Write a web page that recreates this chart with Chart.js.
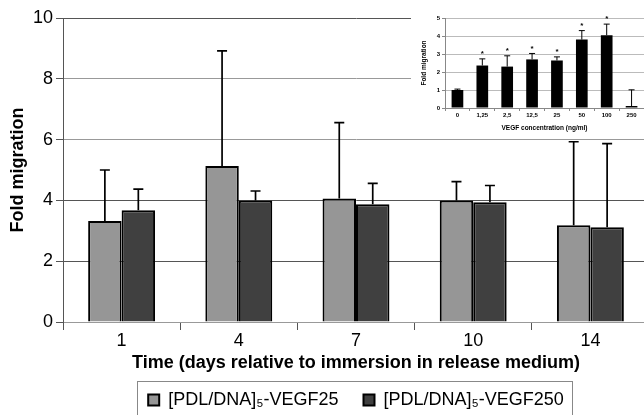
<!DOCTYPE html>
<html>
<head>
<meta charset="utf-8">
<script src="https://cdn.jsdelivr.net/npm/chart.js@4/dist/chart.umd.min.js"></script>
<style>
  html, body { margin: 0; padding: 0; background: #fff; overflow: hidden; }
  #wrap { position: relative; width: 644px; height: 415px; overflow: hidden; }
  #main { position: absolute; left: 0; top: 0; }
  #inset { position: absolute; left: 411px; top: 0; background: #fff; }
</style>
</head>
<body>
<div id="wrap">
  <canvas id="main" width="650" height="425"></canvas>
  <canvas id="inset" width="233" height="136"></canvas>
</div>
<script>
// main chart: fold migration per release day
const days = ['1', '4', '7', '10', '14'];
const vegf25 = [3.32, 5.13, 4.06, 4.00, 3.18];
const vegf25Err = [1.68, 3.79, 2.50, 0.62, 2.75];
const vegf250 = [3.68, 4.00, 3.87, 3.94, 3.12];
const vegf250Err = [0.69, 0.31, 0.69, 0.55, 2.75];
const yTicks = [0, 2, 4, 6, 8, 10];

// inset: dose response
const doses = ['0', '1,25', '2,5', '12,5', '25', '50', '100', '250'];
const doseValues = [1.00, 2.36, 2.30, 2.70, 2.64, 3.80, 4.04, 0.11];
const doseErr = [0.05, 0.37, 0.60, 0.33, 0.20, 0.50, 0.62, 0.90];
const doseStars = [false, true, true, true, true, true, true, false];

Chart.defaults.font.family = "'Liberation Sans', Arial, sans-serif";
Chart.defaults.color = '#000';

const errorBars = {
  id: 'errorBars',
  afterDatasetsDraw(chart) {
    const ctx = chart.ctx;
    const y = chart.scales.y;
    chart.data.datasets.forEach((ds, i) => {
      const meta = chart.getDatasetMeta(i);
      meta.data.forEach((bar, j) => {
        const top = y.getPixelForValue(ds.data[j] + ds.errs[j]);
        ctx.save();
        ctx.strokeStyle = '#000';
        ctx.lineWidth = ds.errWidth;
        ctx.beginPath();
        ctx.moveTo(bar.x, bar.y);
        ctx.lineTo(bar.x, top);
        ctx.moveTo(bar.x - ds.cap / 2, top);
        ctx.lineTo(bar.x + ds.cap / 2, top);
        ctx.stroke();
        if (ds.stars && ds.stars[j]) {
          ctx.fillStyle = '#000';
          ctx.font = "bold 8px 'Liberation Sans', Arial, sans-serif";
          ctx.textAlign = 'center';
          ctx.textBaseline = 'middle';
          ctx.fillText('*', bar.x, top - 5);
        }
        ctx.restore();
      });
    });
  }
};

const legendFrame = {
  id: 'legendFrame',
  afterDraw(chart) {
    const lg = chart.legend;
    if (!lg || !lg.legendHitBoxes || !lg.legendHitBoxes.length) return;
    const hb = lg.legendHitBoxes;
    const a = hb[0], b = hb[hb.length - 1];
    const ctx = chart.ctx;
    const left = Math.round(a.left - 11) + 0.5;
    const right = Math.round(b.left + b.width + 8) + 0.5;
    ctx.save();
    ctx.strokeStyle = '#888';
    ctx.lineWidth = 1;
    ctx.strokeRect(left, Math.round(lg.top) + 0.5, right - left, 100);
    ctx.restore();
  }
};

const gridColor = (c) => {
  const v = c.tick && c.tick.value;
  return (v === 6 || v === 8 || v === 0) ? '#999' : '#555';
};

new Chart(document.getElementById('main'), {
  type: 'bar',
  data: {
    labels: days,
    datasets: [
      {
        label: '[PDL/DNA]\u2085-VEGF25\u00a0\u00a0\u00a0',
        data: vegf25,
        errs: vegf25Err,
        errWidth: 1.7,
        cap: 10,
        backgroundColor: '#969696',
        borderColor: '#000',
        borderWidth: 2
      },
      {
        label: '[PDL/DNA]\u2085-VEGF250',
        data: vegf250,
        errs: vegf250Err,
        errWidth: 1.7,
        cap: 10,
        backgroundColor: '#404040',
        borderColor: '#000',
        borderWidth: 2
      }
    ]
  },
  options: {
    responsive: false,
    animation: false,
    devicePixelRatio: 1,
    categoryPercentage: 0.571,
    barPercentage: 1.0,
    layout: { padding: { top: 18, right: 1, bottom: 6, left: 0 } },
    plugins: {
      tooltip: { enabled: false },
      legend: {
        position: 'bottom',
        fullSize: false,
        labels: {
          boxWidth: 11,
          boxHeight: 11,
          padding: 10,
          font: { size: 18 },
          color: '#000'
        }
      }
    },
    scales: {
      x: {
        afterFit: (s) => { s.height = 59; },
        grid: { display: true, offset: true, drawOnChartArea: false, tickLength: 8, color: '#555' },
        border: { display: true, color: '#999' },
        ticks: { font: { size: 18 }, padding: 0, color: '#000' },
        title: {
          display: true,
          text: 'Time (days relative to immersion in release medium)',
          font: { size: 18, weight: 'bold' },
          padding: { top: 0, bottom: 7 },
          color: '#000'
        }
      },
      y: {
        min: 0,
        max: 10,
        afterFit: (s) => { s.width = 63; },
        afterBuildTicks: (s) => { s.ticks = yTicks.map(v => ({ value: v })); },
        grid: { color: gridColor, tickColor: '#555', tickLength: 7 },
        border: { display: true, color: '#555' },
        ticks: { font: { size: 18 }, padding: 3, color: '#000' },
        title: {
          display: true,
          text: 'Fold migration',
          font: { size: 18, weight: 'bold' },
          padding: { top: 7, bottom: 0 },
          color: '#000'
        }
      }
    }
  },
  plugins: [errorBars, legendFrame]
});

new Chart(document.getElementById('inset'), {
  type: 'bar',
  data: {
    labels: doses,
    datasets: [
      {
        label: 'Fold migration',
        data: doseValues,
        errs: doseErr,
        stars: doseStars,
        errWidth: 1,
        cap: 6,
        backgroundColor: '#000',
        borderColor: '#000',
        borderWidth: 0
      }
    ]
  },
  options: {
    responsive: false,
    animation: false,
    devicePixelRatio: 1,
    categoryPercentage: 0.47,
    barPercentage: 1.0,
    layout: { padding: { top: 18, right: 0, bottom: 0, left: 0 } },
    plugins: { legend: { display: false }, tooltip: { enabled: false } },
    scales: {
      x: {
        afterFit: (s) => { s.height = 28; },
        grid: { display: true, offset: true, drawOnChartArea: false, tickLength: 3, color: '#888' },
        border: { display: true, color: '#888' },
        ticks: { font: { size: 6, weight: 'bold' }, padding: 1, color: '#000' },
        title: {
          display: true,
          text: 'VEGF concentration (ng/ml)',
          font: { size: 6.5, weight: 'bold' },
          padding: { top: 0, bottom: 4 },
          color: '#000'
        }
      },
      y: {
        min: 0,
        max: 5,
        afterFit: (s) => { s.width = 34; },
        ticks: { stepSize: 1, font: { size: 6, weight: 'bold' }, padding: 2, color: '#000' },
        grid: { color: '#bbb', tickColor: '#888', tickLength: 3 },
        border: { display: true, color: '#888' },
        title: {
          display: true,
          text: 'Fold migration',
          font: { size: 6.5, weight: 'bold' },
          padding: { top: 9, bottom: 0 },
          color: '#000'
        }
      }
    }
  },
  plugins: [errorBars]
});
</script>
</body>
</html>
